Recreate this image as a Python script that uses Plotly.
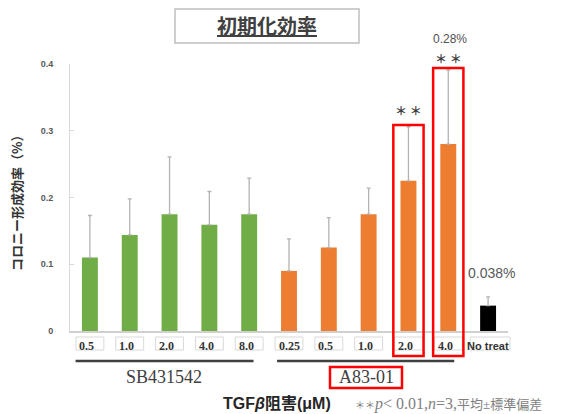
import plotly.graph_objects as go

# ---- data ----
groups = ["SB431542"] * 5 + ["A83-01"] * 5 + ["No treat"]
doses = ["0.5", "1.0", "2.0", "4.0", "8.0", "0.25", "0.5", "1.0", "2.0", "4.0", "No treat"]
means = [0.110, 0.144, 0.175, 0.159, 0.175, 0.090, 0.125, 0.175, 0.225, 0.280, 0.038]
errors = [0.063, 0.054, 0.086, 0.050, 0.054, 0.048, 0.045, 0.039, 0.081, 0.111, 0.013]
sig_marks = ["", "", "", "", "", "", "", "", "＊ ＊", "＊ ＊", ""]
ytick_vals = [0, 0.1, 0.2, 0.3, 0.4]
ytick_text = ["0", "0.1", "0.2", "0.3", "0.4"]

group_colors = {"SB431542": "#70AD47", "A83-01": "#ED7D31", "No treat": "#000000"}
ids = [f"{g}|{d}|{i}" for i, (g, d) in enumerate(zip(groups, doses))]
colors = [group_colors[g] for g in groups]
N = len(ids)

W, H = 564, 414
ML, MR, MT, MB = 70, 56, 64, 83
PW, PH = W - ML - MR, H - MT - MB
YMAX = 0.4


def xd(pos):  # category position -> x domain fraction
    return (pos + 0.5) / N


def pyd(py):  # pixel y -> plot-area fraction
    return (H - MB - py) / PH


def pxd(px):  # pixel x -> plot-area fraction
    return (px - ML) / PW


fig = go.Figure()
fig.add_trace(go.Bar(
    x=ids, y=means,
    marker=dict(color=colors, line=dict(width=0)),
    width=0.4,
    error_y=dict(type="data", array=errors, arrayminus=[0] * N, symmetric=False,
                 color="#b3b3b3", thickness=1.3, width=2),
    hoverinfo="skip",
))

shapes = []
annotations = []


def text(x, y, t, size, color, family, xanchor="center", yanchor="middle", **kw):
    d = dict(x=x, y=y, text=t, showarrow=False, xanchor=xanchor, yanchor=yanchor,
             font=dict(family=family, size=size, color=color))
    d.setdefault("xref", "x domain")
    d.setdefault("yref", "y domain")
    d.update(kw)
    annotations.append(d)


# tick label boxes + labels
for i, d in enumerate(doses):
    if d == "No treat":
        bx0, bx1 = -0.45, 0.55
    else:
        bx0, bx1 = -0.35, 0.35
    shapes.append(dict(type="rect", xref="x domain", yref="y domain",
                       x0=xd(i + bx0), x1=xd(i + bx1), y0=pyd(337), y1=pyd(350),
                       line=dict(color="#d9d9d9", width=1), fillcolor="rgba(0,0,0,0)"))
    if d == "No treat":
        text(ids[i], pyd(346), "<b>No treat</b>", 11, "#333333", "Liberation Sans", xref="x")
    else:
        text(ids[i], pyd(346), f"<b>{d}</b>", 12, "#333333", "Liberation Serif",
             xanchor="left", xref="x", xshift=-12.5)

# significance marks and red highlight boxes
sig_box_top = {8: 125, 9: 68}
sig_text_y = {8: 110, 9: 59}
for i, m in enumerate(sig_marks):
    if not m:
        continue
    shapes.append(dict(type="rect", xref="x domain", yref="y domain",
                       x0=xd(i - 0.38), x1=xd(i + 0.38), y0=pyd(356), y1=pyd(sig_box_top[i]),
                       line=dict(color="#ff0000", width=2.5), fillcolor="rgba(0,0,0,0)"))
    text(ids[i], pyd(sig_text_y[i]), f"<b>{m}</b>", 12, "#404040", "Noto Sans CJK JP", xref="x")

# value labels
text(ids[9], pyd(39), "0.28%", 12, "#505050", "Liberation Sans", xref="x", xshift=2)
text(ids[10], pyd(273), "0.038%", 14, "#595959", "Liberation Sans", xref="x", xshift=3)

# group underlines and labels
under = {"SB431542": (0 - 0.36, 4 + 0.11), "A83-01": (5 - 0.30, 9 + 0.15)}
for g, (a, b) in under.items():
    shapes.append(dict(type="line", xref="x domain", yref="y domain",
                       x0=xd(a), x1=xd(b), y0=pyd(361), y1=pyd(361),
                       line=dict(color="#404040", width=2.5)))

text(pxd(164), pyd(377), "SB431542", 18, "#404040", "Liberation Serif")
text(pxd(366), pyd(377), "A83-01", 18, "#404040", "Liberation Serif")
shapes.append(dict(type="rect", xref="x domain", yref="y domain",
                   x0=pxd(330), x1=pxd(402), y0=pyd(388), y1=pyd(367),
                   line=dict(color="#ff0000", width=2.5), fillcolor="rgba(0,0,0,0)"))

# bottom texts
text(pxd(277), pyd(403), "<b>TGF<i>β</i>阻害(μM)</b>", 16, "#262626",
     "Liberation Sans, Noto Sans CJK JP")
text(pxd(353), pyd(404),
     "<span style='font-size:10px'>＊＊</span>"
     "<span style='font-size:16px'><i>p</i>< 0.01,<i>n</i>=3,</span>平均±標準偏差",
     13, "#808080", "Liberation Serif, Noto Sans CJK JP", xanchor="left")

# y axis title
text(pxd(16), pyd(200), "<b>コロニー形成効率（%）</b>", 13, "#333333", "Noto Sans CJK JP",
     textangle=-90)

# chart title with box
shapes.append(dict(type="rect", xref="x domain", yref="y domain",
                   x0=pxd(175), x1=pxd(359), y0=pyd(43), y1=pyd(9),
                   line=dict(color="#bfbfbf", width=1.5), fillcolor="rgba(0,0,0,0)"))
text(pxd(267), pyd(25), "<b><u>初期化効率</u></b>", 20, "#404040", "Noto Sans CJK JP")

fig.update_layout(
    width=W, height=H,
    margin=dict(l=ML, r=MR, t=MT, b=MB),
    paper_bgcolor="white", plot_bgcolor="white",
    showlegend=False,
    shapes=shapes, annotations=annotations,
    xaxis=dict(type="category", range=[-0.5, N - 0.5], showticklabels=False, ticks="",
               showgrid=False, zeroline=False, showline=True, linecolor="#d0d0d0", linewidth=1.5),
    yaxis=dict(range=[0, YMAX], tickvals=ytick_vals, ticktext=[f"<b>{t}</b>" for t in ytick_text],
               showgrid=False, zeroline=False, showline=True, linecolor="#d9d9d9", linewidth=1,
               ticks="inside", ticklen=4, tickcolor="#d9d9d9", ticklabelstandoff=14,
               tickfont=dict(family="Liberation Sans", size=9, color="#595959")),
)

fig.write_html("out.html")
